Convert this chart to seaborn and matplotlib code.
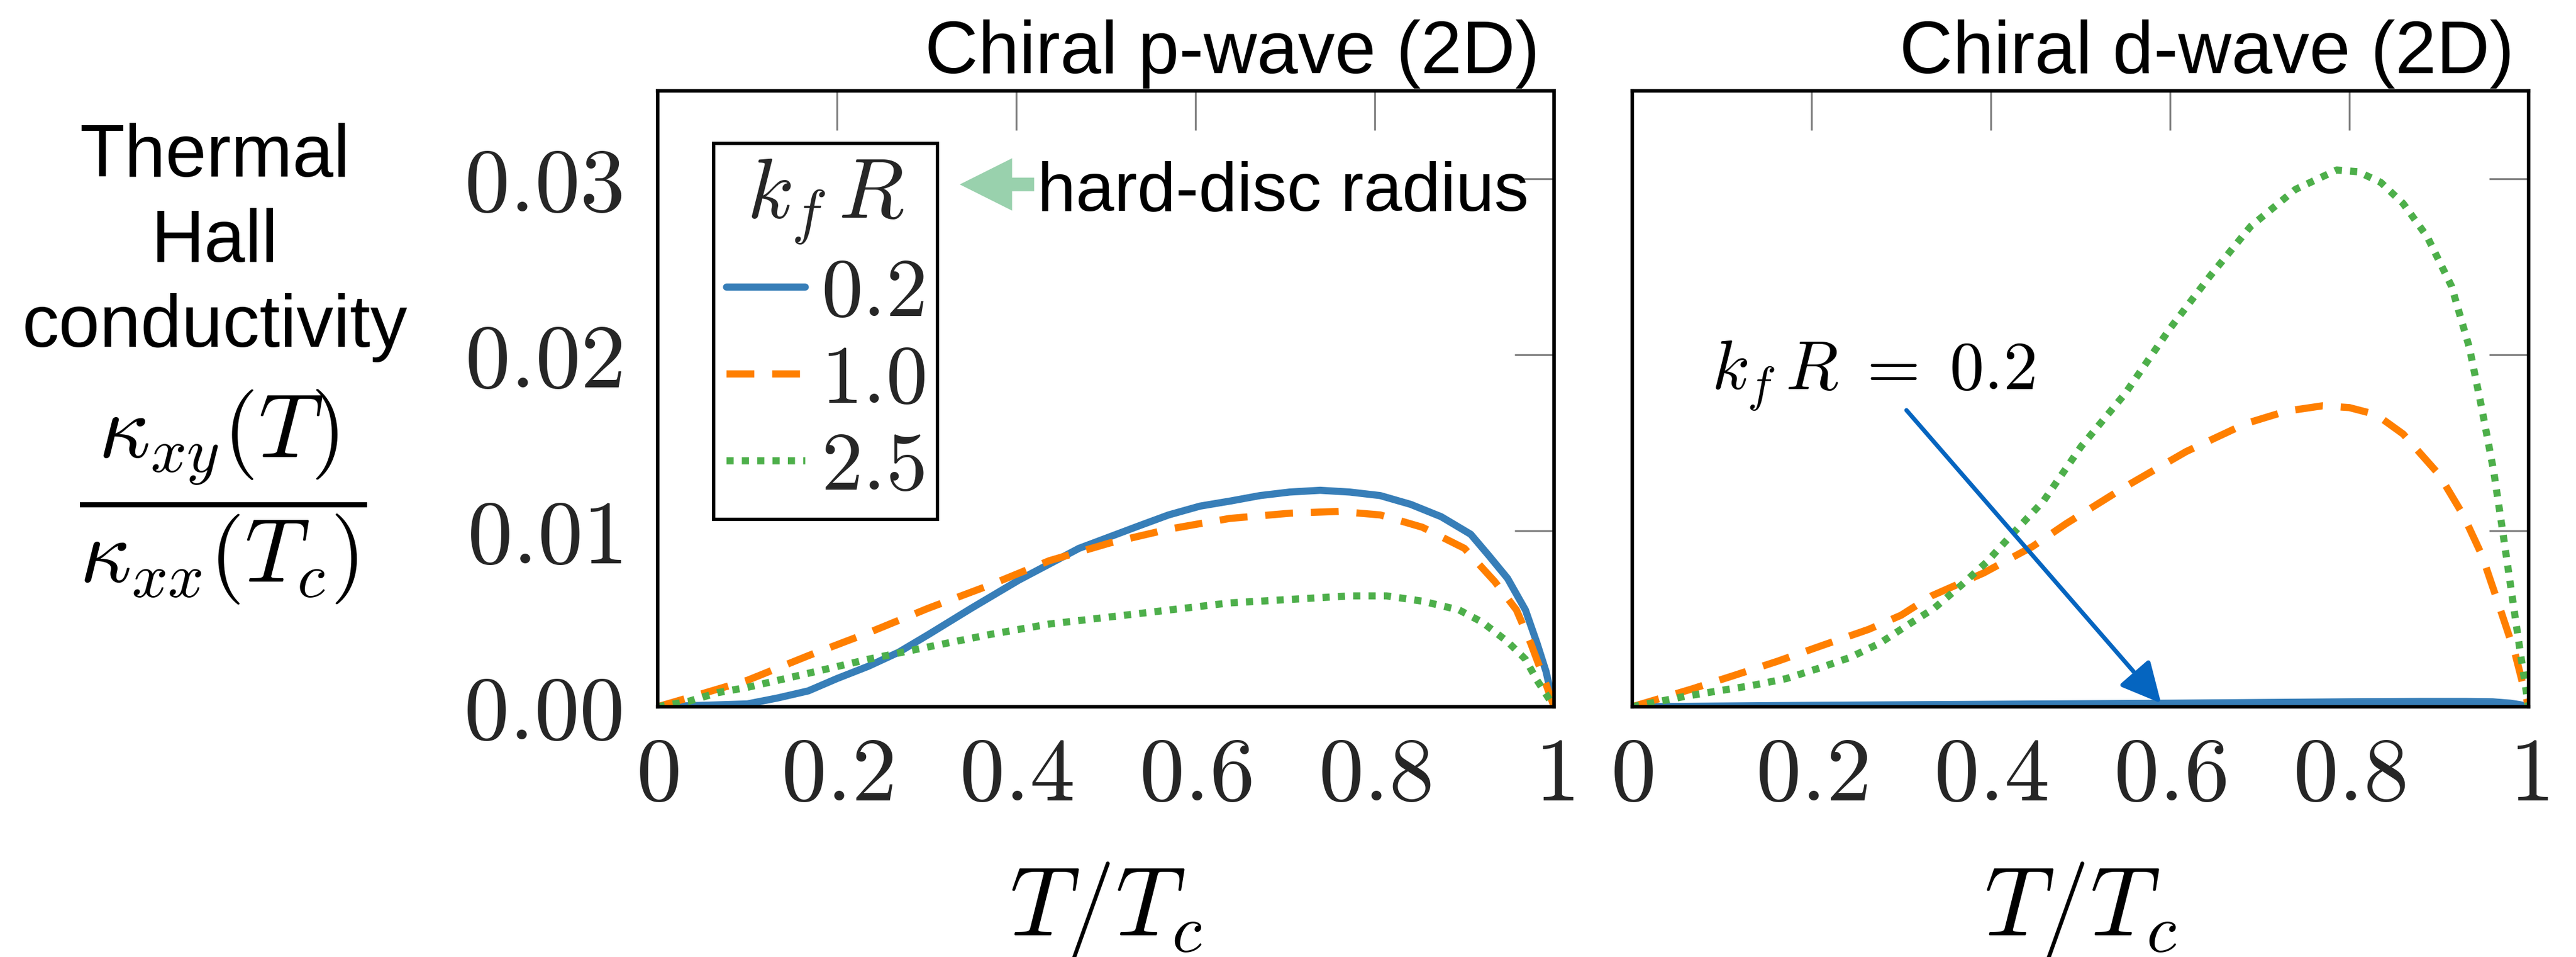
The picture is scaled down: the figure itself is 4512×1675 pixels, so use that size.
import matplotlib
matplotlib.use("Agg")
import matplotlib.pyplot as plt
from matplotlib.lines import Line2D
import pandas as pd
import seaborn as sns

# ---- chiral p-wave (2D): T/Tc and kappa_xy(T)/kappa_xx(Tc) per k_f R ----
p_t_02 = [0, 0.10, 0.134, 0.168, 0.20, 0.235, 0.269, 0.302, 0.35, 0.403, 0.47, 0.538, 0.57,
          0.605, 0.64, 0.672, 0.705, 0.739, 0.772, 0.806, 0.84, 0.874, 0.907, 0.927, 0.948,
          0.968, 0.981, 0.991, 1.0]
p_k_02 = [0, 0.00016, 0.0005, 0.0009, 0.0016, 0.0023, 0.0031, 0.0041, 0.0056, 0.0072, 0.0090,
          0.0103, 0.0109, 0.0114, 0.0117, 0.0120, 0.0122, 0.0123, 0.0122, 0.0120, 0.0115,
          0.0108, 0.0098, 0.0086, 0.0073, 0.0055, 0.0036, 0.0020, 0]

p_t_10 = [0, 0.047, 0.10, 0.168, 0.235, 0.302, 0.37, 0.437, 0.504, 0.571, 0.638, 0.706, 0.76,
          0.806, 0.853, 0.90, 0.934, 0.958, 0.974, 0.988, 1.0]
p_k_10 = [0, 0.0007, 0.0015, 0.0029, 0.0042, 0.0056, 0.0069, 0.0083, 0.0093, 0.0101, 0.0107,
          0.0110, 0.0111, 0.0109, 0.0102, 0.0090, 0.0071, 0.0055, 0.0036, 0.0017, 0]

p_t_25 = [0, 0.034, 0.067, 0.10, 0.134, 0.168, 0.235, 0.302, 0.37, 0.437, 0.504, 0.571, 0.638,
          0.706, 0.773, 0.813, 0.853, 0.894, 0.92, 0.948, 0.968, 0.981, 1.0]
p_k_25 = [0, 0.0003, 0.0008, 0.0011, 0.0015, 0.0019, 0.0027, 0.0034, 0.0041, 0.0047, 0.0051,
          0.0055, 0.0059, 0.0061, 0.0063, 0.0063, 0.0060, 0.0055, 0.0048, 0.0037, 0.0027,
          0.0015, 0]

# ---- chiral d-wave (2D) ----
d_t_02 = [0, 0.1, 0.2, 0.3, 0.4, 0.5, 0.6, 0.7, 0.8, 0.88, 0.93, 0.96, 0.98, 0.99, 1.0]
d_k_02 = [0, 0.00004, 0.00008, 0.00011, 0.00014, 0.00017, 0.0002, 0.00024, 0.00028, 0.0003,
          0.0003, 0.00028, 0.0002, 0.00012, 0]

d_t_10 = [0, 0.066, 0.115, 0.163, 0.213, 0.264, 0.30, 0.334, 0.392, 0.4465, 0.484, 0.55, 0.618,
          0.685, 0.73, 0.77, 0.80, 0.83, 0.86, 0.90, 0.927, 0.948, 0.968, 0.985, 1.0]
d_k_10 = [0, 0.0010, 0.0018, 0.0026, 0.0035, 0.0044, 0.0052, 0.0063, 0.0076, 0.0091, 0.0104,
          0.0125, 0.0145, 0.0161, 0.0168, 0.0171, 0.0170, 0.0166, 0.0155, 0.0132, 0.0109,
          0.0086, 0.0056, 0.0030, 0]

d_t_25 = [0, 0.060, 0.096, 0.133, 0.172, 0.209, 0.243, 0.276, 0.306, 0.337, 0.367, 0.395, 0.422,
          0.459, 0.501, 0.55, 0.60, 0.645, 0.69, 0.74, 0.786, 0.81, 0.835, 0.86, 0.887, 0.914,
          0.934, 0.948, 0.961, 0.971, 0.981, 0.991, 1.0]
d_k_25 = [0, 0.0006, 0.0009, 0.0012, 0.0016, 0.0022, 0.0028, 0.0036, 0.0046, 0.0056, 0.0069,
          0.0082, 0.0097, 0.0117, 0.0148, 0.0178, 0.0215, 0.0245, 0.0273, 0.0294, 0.0305,
          0.0304, 0.0298, 0.0286, 0.0267, 0.0239, 0.0204, 0.0169, 0.0134, 0.0100, 0.0065,
          0.0030, 0]

kfR_levels = ["0.2", "1.0", "2.5"]
panel_titles = ["Chiral p-wave (2D)", "Chiral d-wave (2D)"]
x_ticks = [0, 0.2, 0.4, 0.6, 0.8, 1.0]
x_tick_labels = ["$0$", "$0.2$", "$0.4$", "$0.6$", "$0.8$", "$1$"]
y_ticks = [0, 0.01, 0.02, 0.03]
y_tick_labels = ["$0.00$", "$0.01$", "$0.02$", "$0.03$"]

series = {
    ("p", "0.2"): (p_t_02, p_k_02), ("p", "1.0"): (p_t_10, p_k_10), ("p", "2.5"): (p_t_25, p_k_25),
    ("d", "0.2"): (d_t_02, d_k_02), ("d", "1.0"): (d_t_10, d_k_10), ("d", "2.5"): (d_t_25, d_k_25),
}
rows = []
for (panel, kfr), (ts, ks) in series.items():
    for t, k in zip(ts, ks):
        rows.append({"panel": panel, "kfR": kfr, "t": t, "kappa": k})
df = pd.DataFrame(rows)

sns.set_theme(style="white")
plt.rcParams["font.family"] = ["Liberation Sans", "DejaVu Sans"]
plt.rcParams["mathtext.fontset"] = "cm"

palette = {"0.2": "#377eb8", "1.0": "#ff7f00", "2.5": "#4daf4a"}
dashes = {"0.2": "", "1.0": (3.9, 2.5), "2.5": (1.0, 1.15)}
LW = 3.0

W, H, DPI = 4512, 1675, 300
fig = plt.figure(figsize=(W / DPI, H / DPI), dpi=DPI)
fig.patch.set_facecolor("white")
ax_p = fig.add_axes([0.2553, 0.2615, 0.3480, 0.6436])
ax_d = fig.add_axes([0.6336, 0.2615, 0.3480, 0.6436])

for ax, panel, title in [(ax_p, "p", panel_titles[0]), (ax_d, "d", panel_titles[1])]:
    sub = df[df["panel"] == panel]
    sns.lineplot(data=sub, x="t", y="kappa", hue="kfR", style="kfR",
                 hue_order=kfR_levels, style_order=kfR_levels,
                 palette=palette, dashes=dashes, estimator=None, sort=False,
                 linewidth=LW, legend=False, ax=ax)
    ax.set_xlim(0, 1)
    ax.set_ylim(0, 0.035)
    ax.set_xticks(x_ticks)
    ax.set_xticklabels(x_tick_labels)
    ax.set_yticks(y_ticks)
    ax.set_yticklabels(y_tick_labels)
    ax.set_xlabel("")
    ax.set_ylabel("")
    ax.tick_params(axis="both", which="both", direction="in", length=16.5, width=0.8,
                   color="#808080", top=True, right=True, labelsize=38)
    ax.tick_params(axis="x", pad=12)
    ax.tick_params(axis="y", pad=15)
    for s in ax.spines.values():
        s.set_visible(True)
        s.set_color("black")
        s.set_linewidth(1.5)
    ax.set_facecolor("white")
    ax.text(0.984, 1.029, title, transform=ax.transAxes, ha="right", va="baseline",
            fontsize=31, color="black")
    ax.text(0.5, -0.371, r"$T/T_c$", transform=ax.transAxes, ha="center", va="baseline",
            fontsize=41, color="black")

ax_d.tick_params(axis="y", labelleft=False)

# legend for k_f R
handles = [Line2D([], [], color=palette[k], lw=LW,
                  linestyle=(0, dashes[k]) if dashes[k] else "-") for k in kfR_levels]
leg = ax_p.legend(handles, ["$" + k + "$" for k in kfR_levels], title=r"$k_f\,R$",
                  loc="upper left", bbox_to_anchor=(0.0624, 0.9147), borderaxespad=0,
                  fontsize=35, title_fontsize=36, handlelength=0.95, handletextpad=0.19,
                  labelspacing=0.11, borderpad=0.15, frameon=True, fancybox=False,
                  framealpha=1, edgecolor="black")
leg.get_frame().set_linewidth(1.4)

# hard-disc radius pointer
ax_p.annotate("", xy=(0.337, 0.02968), xytext=(0.420, 0.02968),
              arrowprops=dict(arrowstyle="simple,head_length=1.0,head_width=1.0,tail_width=0.26",
                              mutation_scale=22, color="#99d1ad", lw=0,
                              shrinkA=0, shrinkB=0))
ax_p.text(0.4236, 0.0282, "hard-disc radius", fontsize=29, ha="left", va="baseline",
          color="black")

# k_f R = 0.2 pointer on the d-wave panel
ax_d.text(0.0885, 0.0180, r"$k_f\,R\;=\;0.2$", fontsize=29, ha="left", va="baseline",
          color="black")
ax_d.annotate("", xy=(0.59, 0.0002), xytext=(0.306, 0.01685),
              arrowprops=dict(arrowstyle="-|>", color="#0565c0", lw=1.8,
                              mutation_scale=36, shrinkA=0, shrinkB=0))

# y-axis description on the left
fig.text(376 / W, 1 - 607 / H, "Thermal\nHall\nconductivity", ha="center", va="baseline",
         fontsize=31, linespacing=1.3, color="black")
fig.text(391 / W, 1 - 870 / H, r"$\dfrac{\kappa_{xy}(T)}{\kappa_{xx}(T_c)}$",
         ha="center", va="center", fontsize=38, color="black")

fig.savefig("out.png", dpi=DPI, facecolor="white")
